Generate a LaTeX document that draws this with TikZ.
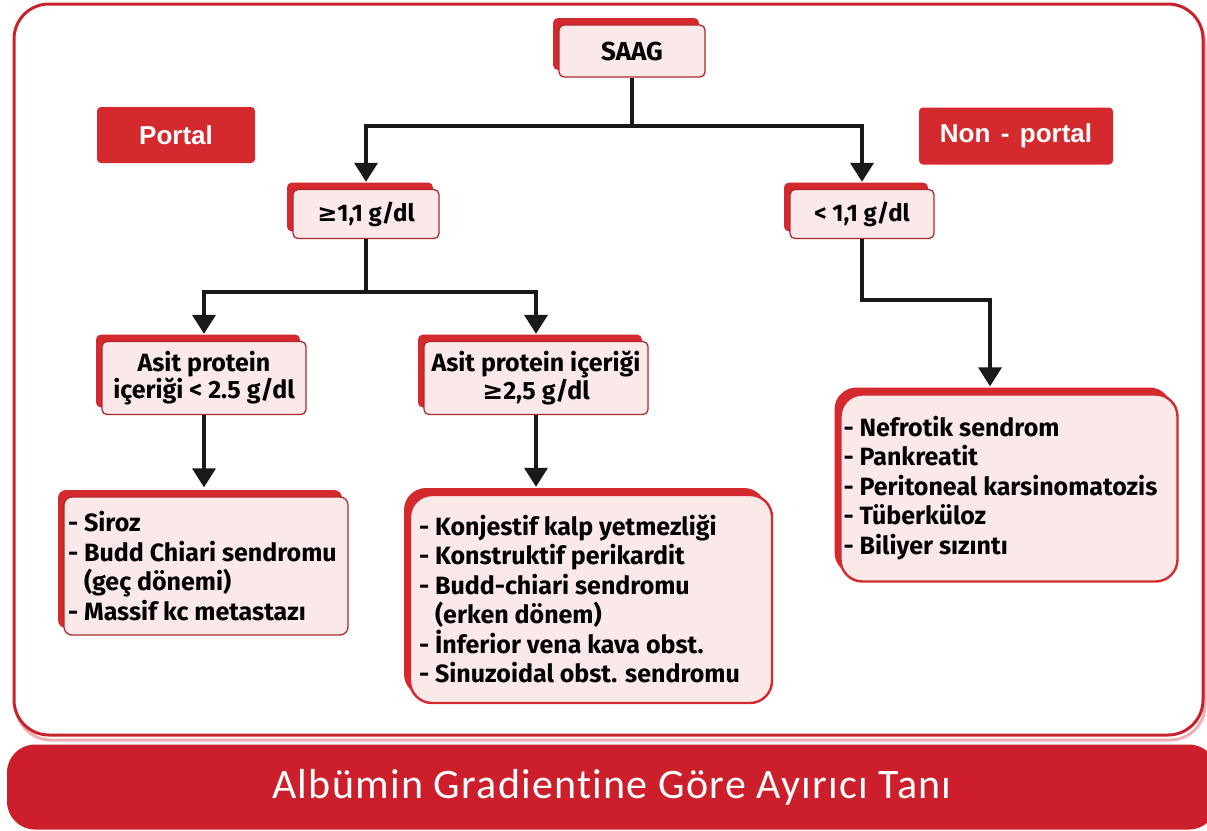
\documentclass[tikz,border=0pt]{standalone}
\usepackage{fontspec}
\setmainfont{Fira Sans}
\newfontfamily\hdfont{Liberation Sans}
\newfontfamily\ftfont{Carlito}[Ligatures=NoCommon]
\newfontfamily\symfont{DejaVu Sans}
\usetikzlibrary{arrows.meta,shadows}
\definecolor{boxred}{HTML}{D42A2E}
\definecolor{pinkfill}{HTML}{FBE9E9}
\definecolor{edgered}{HTML}{B0282C}
\definecolor{framered}{HTML}{C8232B}
\definecolor{footred}{HTML}{CC1F2B}
\newcommand\gesym{{\symfont\bfseries ≥}}
\begin{document}
\begin{tikzpicture}[x=1pt,y=-1pt,
  pbox/.style={draw=edgered, line width=1.3pt, fill=pinkfill, rounded corners=5pt,
    drop shadow={shadow xshift=-6pt, shadow yshift=7pt, fill=boxred, opacity=1},
    align=center, inner sep=0pt, font=\bfseries\fontsize{25}{26}\selectfont},
  lbox/.style={pbox, line width=2.4pt, draw=boxred, rounded corners=22pt, align=flush left,
    font=\bfseries\fontsize{25}{29.5}\selectfont},
  tagbox/.style={fill=boxred, rounded corners=4pt, text=white, inner sep=0pt,
    font=\hdfont\bfseries\fontsize{26}{30}\selectfont},
  conn/.style={line width=3.6pt, black!90},
  arr/.style={conn, -{Triangle[length=19pt,width=23pt]}},
]
\useasboundingbox (0,0) rectangle (1207,830);
\clip (0,0) rectangle (1207,830);
% frame
\draw[draw=pinkfill!70!boxred, line width=3pt, rounded corners=35pt] (16,9) rectangle (1205,740);
\draw[framered, line width=3pt, rounded corners=35pt, fill=white] (14,4) rectangle (1203,735);
% footer
\node[fill=footred, rounded corners=28pt, minimum width=1210pt, minimum height=85pt, inner sep=0pt,
  text=white, font=\ftfont\fontsize{42}{46}\selectfont] (foot) at (612,787)
  {\addfontfeatures{LetterSpace=3}Albümin Gradientine Göre Ayırıcı Tanı};
% tags
\node[tagbox, minimum width=158pt, minimum height=56pt] (portal) at (176,135) {Portal};
\node[tagbox, minimum width=194pt, minimum height=57pt] (nonportal) at (1016,136) {Non\hspace{0.4em}-\hspace{0.4em}portal};
% boxes
\node[pbox, minimum width=146pt, minimum height=52pt, font=\bfseries\fontsize{26}{28}\selectfont] (saag) at (632,51) {SAAG};
\node[pbox, minimum width=146pt, minimum height=49pt, font=\bfseries\fontsize{24}{26}\selectfont] (ge11) at (366,214) {\gesym1,1 g/dl};
\node[pbox, minimum width=144pt, minimum height=49pt, font=\bfseries\fontsize{24}{26}\selectfont] (lt11) at (862,214) {< 1,1 g/dl};
\node[pbox, minimum width=204pt, minimum height=73pt] (asitA) at (204,378) {Asit protein\\içeriği < 2.5 g/dl};
\node[pbox, minimum width=224pt, minimum height=73pt] (asitB) at (536,378) {Asit protein içeriği\\\gesym2,5 g/dl};
\node[lbox, rounded corners=8pt, line width=1.3pt, draw=edgered, text width=276pt, inner xsep=4pt, minimum height=138pt] (siroz) at (206,566)
  {- Siroz\\- Budd Chiari sendromu\\\phantom{- }(geç dönemi)\\- Massif kc metastazı};
\node[lbox, text width=344pt, inner xsep=9pt, minimum height=208pt] (konj) at (591,599)
  {- Konjestif kalp yetmezliği\\- Konstruktif perikardit\\- Budd-chiari sendromu\\\phantom{- }(erken dönem)\\- İnferior vena kava obst.\\- Sinuzoidal obst. sendromu};
\node[lbox, text width=331pt, inner xsep=3pt, minimum height=187pt] (nef) at (1009,488)
  {- Nefrotik sendrom\\- Pankreatit\\- Peritoneal karsinomatozis\\- Tüberküloz\\- Biliyer sızıntı};
% connectors
\coordinate (j1) at (saag.south |- 0,126);
\draw[conn] (saag.south) -- (j1);
\draw[arr] (j1) -| ([yshift=7pt]ge11.north);
\draw[arr] (j1) -| ([yshift=7pt]lt11.north);
\coordinate (j2) at (ge11.south |- 0,292);
\draw[conn] (ge11.south) -- (j2);
\draw[arr] (j2) -| ([yshift=7pt]asitA.north);
\draw[arr] (j2) -| ([yshift=7pt]asitB.north);
\draw[arr] (asitA.south) -- ([yshift=9pt]asitA.south |- siroz.north);
\draw[arr] (asitB.south) -- ([yshift=7pt]asitB.south |- konj.north);
\coordinate (k) at (990,300);
\coordinate (nt) at ([yshift=7pt]nef.north);
\draw[arr] (lt11.south) |- (k) -- (k |- nt);
\end{tikzpicture}
\end{document}
